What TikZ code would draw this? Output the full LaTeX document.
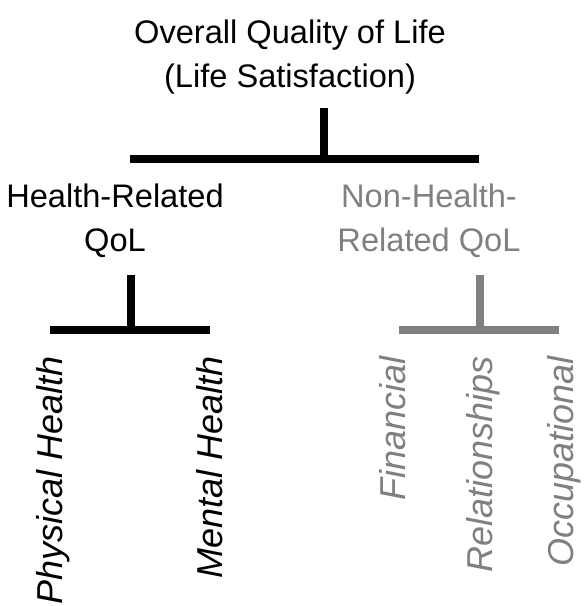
\documentclass[tikz,border=0pt]{standalone}
\usepackage{fontspec}
\setmainfont{Liberation Sans}
\usepackage{xcolor}
\usetikzlibrary{positioning}
\definecolor{nonhealth}{HTML}{808080}

\begin{document}
\begin{tikzpicture}[x=0.5pt, y=-0.5pt,
    heading/.style={inner sep=0pt, align=center, font=\fontsize{16.3}{22}\selectfont},
    facet/.style={inner sep=0pt, rotate=90, anchor=base east, font=\fontsize{18}{20}\selectfont\itshape},
    fork/.style={line width=4pt}]
    \useasboundingbox (0,0) rectangle (585,606);
    \node [heading, anchor=north] (qol) at (290,19) {Overall Quality of Life\\(Life Satisfaction)};
    \node [heading, anchor=north] (hrqol) at (115,183) {Health-Related\\QoL};
    \node [heading, anchor=north, text=nonhealth] (nhrqol) at (429,183) {Non-Health-\\Related QoL};
    % top fork
    \coordinate (qolstem) at (324,108);
    \coordinate (qoljoin) at (324,159);
    \coordinate (qolleft) at (130,159);
    \coordinate (qolright) at (479,159);
    \draw [fork] (qolstem) -- (qoljoin);
    \draw [fork] (qolleft) -- (qolright);
    % health-related fork
    \coordinate (hrstem) at (131,275);
    \coordinate (hrjoin) at (131,330);
    \coordinate (hrleft) at (50,330);
    \coordinate (hrright) at (210,330);
    \draw [fork] (hrstem) -- (hrjoin);
    \draw [fork] (hrleft) -- (hrright);
    % non-health-related fork
    \coordinate (nhrstem) at (480,275);
    \coordinate (nhrjoin) at (480,330);
    \coordinate (nhrleft) at (399,330);
    \coordinate (nhrright) at (559,330);
    \draw [fork, nonhealth] (nhrstem) -- (nhrjoin);
    \draw [fork, nonhealth] (nhrleft) -- (nhrright);
    % facets
    \node [facet] (physical) at (62,356) {Physical Health};
    \node [facet] (mental) at (222,356) {Mental Health};
    \node [facet, text=nonhealth] (financial) at (405,356) {Financial};
    \node [facet, text=nonhealth] (relations) at (492,356) {Relationships};
    \node [facet, text=nonhealth] (occupation) at (573,356) {Occupational};
\end{tikzpicture}
\end{document}
